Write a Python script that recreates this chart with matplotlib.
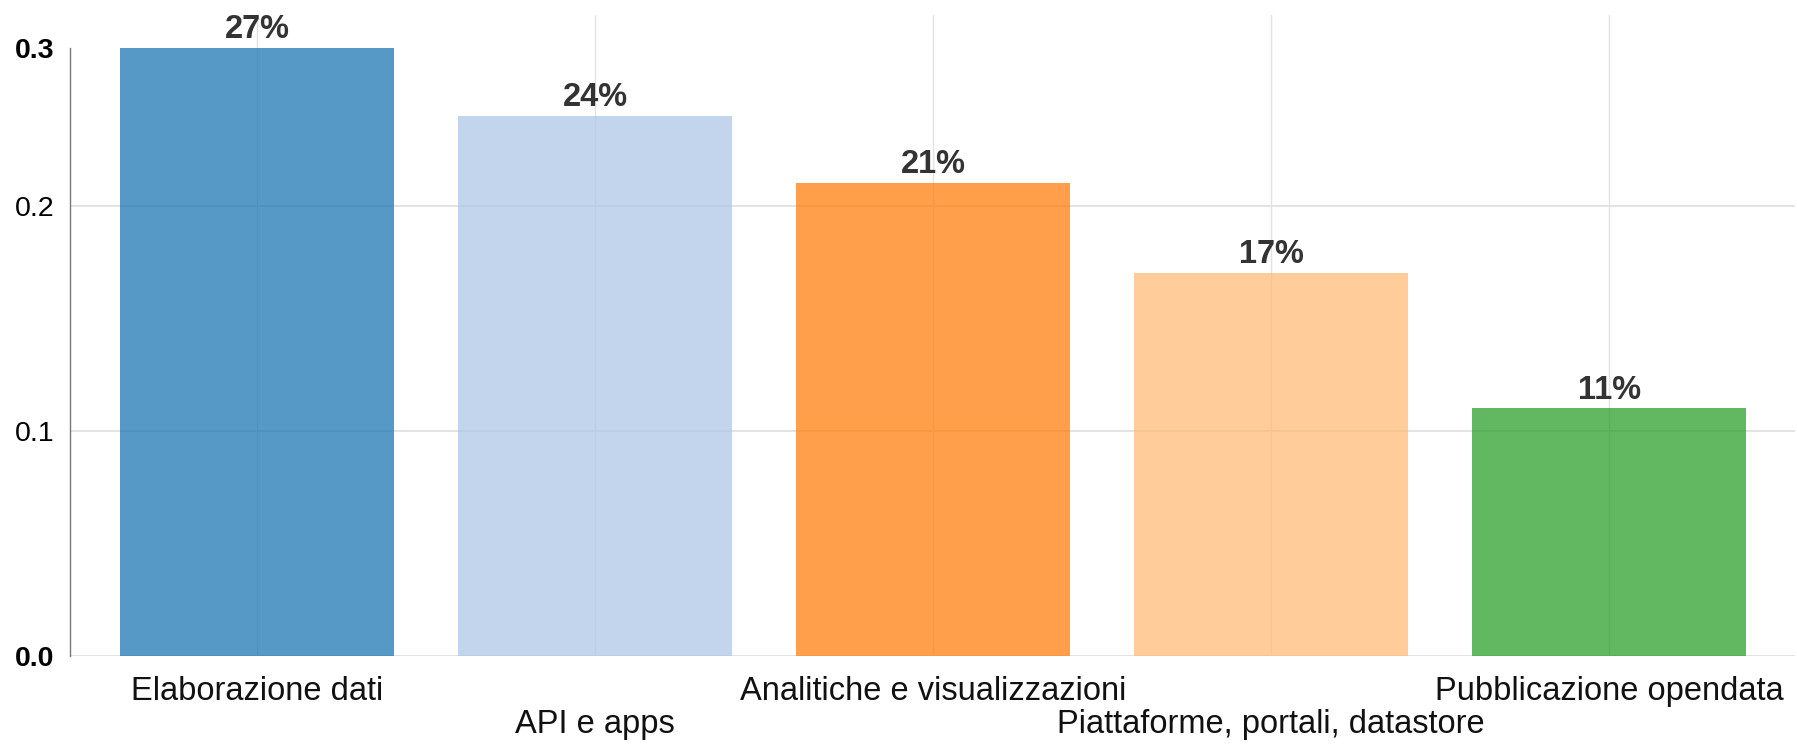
import matplotlib
matplotlib.use('Agg')
import matplotlib.pyplot as plt

plt.rcParams['font.family'] = ['Liberation Sans', 'DejaVu Sans']

categories = ['Elaborazione dati', 'API e apps', 'Analitiche e visualizzazioni',
              'Piattaforme, portali, datastore', 'Pubblicazione opendata']
values = [0.27, 0.24, 0.21, 0.17, 0.11]
value_labels = ['27%', '24%', '21%', '17%', '11%']
colors = ['#1f77b4', '#aec7e8', '#ff7f0e', '#ffbb78', '#2ca02c']
ytick_vals = [0.0, 0.1, 0.2, 0.27]
ytick_labels = ['0.0', '0.1', '0.2', '0.3']

W, H = 1797, 749
fig = plt.figure(figsize=(W / 100, H / 100), dpi=100)
ax = fig.add_axes([70 / W, 93 / H, 1725 / W, 641 / H])

x = list(range(len(categories)))
ymax = max(values)

# grid first, bars are see-through
for xi in x:
    ax.axvline(xi, color='#e3e3e3', lw=1.0, zorder=0)
for yv in [0.1, 0.2]:
    ax.axhline(yv, color='#e3e3e3', lw=1.4, zorder=0)
ax.axhline(0, color='#e3e3e3', lw=1.4, zorder=0)

ax.bar(x, values, width=0.81, color=colors, alpha=0.75, zorder=2)

for xi, v, lab in zip(x, values, value_labels):
    ax.annotate(lab, (xi, v), xytext=(0, 7), textcoords='offset points',
                ha='center', va='baseline', fontsize=23.5, fontweight='bold',
                color='#333333')

ax.set_xlim(-0.553, 4.55)
ax.set_ylim(0, ymax * 641 / 608)

for s in ['top', 'right', 'bottom']:
    ax.spines[s].set_visible(False)
ax.spines['left'].set_color('#777777')
ax.spines['left'].set_linewidth(1.0)
ax.spines['left'].set_bounds(0, ymax)

ax.set_yticks(ytick_vals)
ax.set_yticklabels(ytick_labels, fontsize=20.5, color='#000000')
for i, t in enumerate(ax.get_yticklabels()):
    if i == 0 or i == len(ytick_vals) - 1:
        t.set_fontweight('bold')
ax.tick_params(axis='y', length=0, pad=11)

ax.set_xticks(x)
ax.set_xticklabels(categories, fontsize=23.5, color='#111111')
ax.tick_params(axis='x', length=0, pad=14.5)
for i, tk in enumerate(ax.xaxis.get_major_ticks()):
    if i % 2 == 1:
        tk.set_pad(38.5)

fig.savefig('out.png', dpi=100)
